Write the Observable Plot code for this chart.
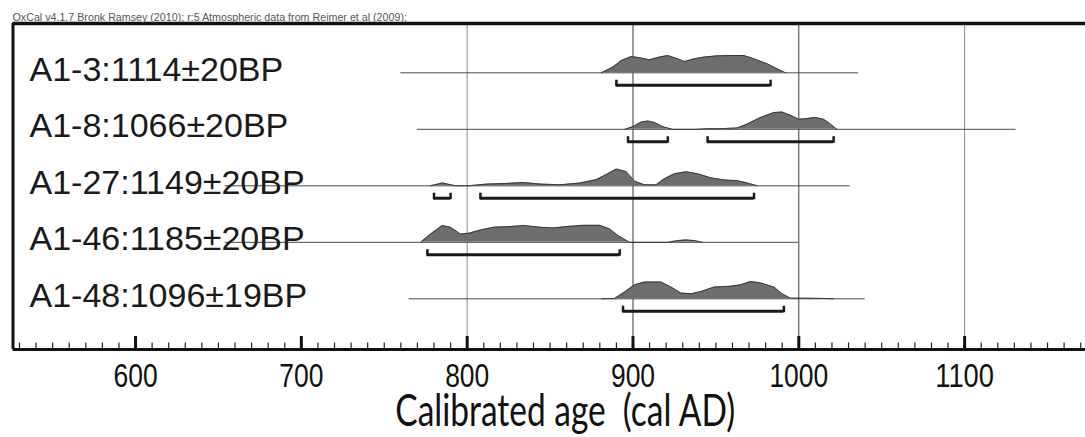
<!DOCTYPE html>
<html><head><meta charset="utf-8">
<script src="https://cdn.jsdelivr.net/npm/d3@7"></script>
<script src="https://cdn.jsdelivr.net/npm/@observablehq/plot@0.6"></script>
<style>html,body{margin:0;padding:0;background:#fff} svg{display:block}</style>
</head><body><div id="chart"></div>
<script>
// ---------- data ----------
const header = "OxCal v4.1.7 Bronk Ramsey (2010); r:5 Atmospheric data from Reimer et al (2009);";
const axisTitle = "Calibrated age\u00a0\u00a0(cal AD)";
const sampleLabels = ["A1-3:1114±20BP", "A1-8:1066±20BP", "A1-27:1149±20BP", "A1-46:1185±20BP", "A1-48:1096±19BP"];
const rangeFrom = [760, 770, 654, 654, 765];
const rangeTo = [1036, 1131, 1031, 1000, 1040];

const yearsA1_3 = [881, 888, 893, 899, 904, 910, 916, 921, 927, 931, 937, 943, 951, 959, 967, 973, 981, 987, 992];
const probA1_3  = [0, .33, .71, .94, .87, .75, .91, 1.0, .81, .65, .81, .91, .98, 1.0, 1.0, .81, .52, .23, 0];

const yearsA1_8 = [895, 900, 905, 909, 913, 918, 924, 938, 945, 953, 963, 969, 977, 985, 990, 995, 1000, 1005, 1010, 1015, 1019, 1023];
const probA1_8  = [0, .15, .42, .48, .40, .15, 0, 0, .04, .04, .08, .31, .69, .97, 1.0, .81, .58, .62, .69, .58, .31, 0];

const yearsA1_27 = [778, 785, 793, 801, 812, 822, 834, 844, 856, 868, 878, 884, 890, 896, 901, 907, 914, 919, 925, 932, 939, 947, 955, 963, 969, 975];
const probA1_27  = [0, .17, 0, 0, .10, .13, .19, .10, .06, .16, .36, .66, .97, .82, .26, .06, .06, .41, .70, .81, .70, .46, .34, .30, .16, 0];

const yearsA1_46 = [772, 778, 785, 790, 796, 801, 808, 816, 826, 834, 844, 852, 860, 870, 880, 886, 891, 898, 921, 927, 932, 937, 942];
const probA1_46  = [0, .48, .97, .87, .48, .52, .71, .87, .91, .97, .87, .83, .91, .98, .98, .77, .39, 0, 0, .10, .14, .10, 0];

const yearsA1_48 = [881, 889, 895, 901, 907, 917, 923, 929, 935, 941, 949, 959, 965, 971, 977, 985, 990, 995, 1003, 1015, 1021];
const probA1_48  = [0, .02, .39, .81, .97, .97, .68, .33, .29, .42, .68, .73, .81, 1.0, .92, .68, .29, .04, .04, .02, 0];

const hpdFrom = [[890], [897, 945], [780, 808], [776], [894]];
const hpdTo   = [[983], [921, 1021], [790, 973], [892], [991]];

const tickValues = [600, 700, 800, 900, 1000, 1100];
const gridValues = [800, 900, 1000, 1100];
const minorTicks = d3.range(530, 1175, 10);

// ---------- layout ----------
const xDomain = [526.1, 1172.9];
const yDomain = [-0.873, 4.897];
const rowPx = 56.5, peakPx = 17.3;
const k = peakPx / rowPx;
const hpdOff = 12.4 / rowPx;

const yearsAll = [yearsA1_3, yearsA1_8, yearsA1_27, yearsA1_46, yearsA1_48];
const probAll = [probA1_3, probA1_8, probA1_27, probA1_46, probA1_48];

const rows = sampleLabels.map((label, i) => ({label, i, from: rangeFrom[i], to: rangeTo[i]}));
const dens = yearsAll.flatMap((ys, i) => ys.map((year, j) => ({i, year, p: probAll[i][j]})));
const hpd = hpdFrom.flatMap((fs, i) => fs.map((from, j) => ({i, from, to: hpdTo[i][j]})));
const hpdEnds = hpd.flatMap(d => [{i: d.i, x: d.from}, {i: d.i, x: d.to}]);

const sans = "'Liberation Sans', Arial, sans-serif";

const chart = Plot.plot({
  width: 1085, height: 437,
  marginLeft: 12.5, marginRight: 0, marginTop: 23, marginBottom: 88,
  x: {domain: xDomain, axis: null},
  y: {domain: yDomain, reverse: true, axis: null},
  style: {fontFamily: sans, background: "#fff", overflow: "visible"},
  marks: [
    Plot.ruleX(gridValues, {x: d => d, stroke: d => (d === 900 || d === 1000) ? "#3a3a3a" : "#8a8a8a", strokeWidth: 1}),
    Plot.ruleY(rows, {y: "i", x1: "from", x2: "to", stroke: "#4a4a4a", strokeWidth: 1}),
    Plot.area(dens, {x1: "year", y1: "i", y2: d => d.i - d.p * k, z: "i", fill: "#6e6e6e"}),
    Plot.line(dens, {x: "year", y: d => d.i - d.p * k, z: "i", stroke: "#2a2a2a", strokeWidth: 0.8}),
    Plot.ruleY(hpd, {y: d => d.i + hpdOff, x1: "from", x2: "to", stroke: "#1a1a1a", strokeWidth: 3}),
    Plot.ruleX(hpdEnds, {x: "x", y1: d => d.i + hpdOff + 1.5 / rowPx, y2: d => d.i + hpdOff - 5 / rowPx, stroke: "#1a1a1a", strokeWidth: 2.5}),
    Plot.ruleX(minorTicks, {x: d => d, y1: yDomain[1], y2: yDomain[1] - 6.5 / rowPx, stroke: "#222", strokeWidth: 1.2}),
    Plot.ruleX(tickValues, {x: d => d, y1: yDomain[1], y2: yDomain[1] - 13 / rowPx, stroke: "#111", strokeWidth: 3}),
    Plot.ruleY([yDomain[1]], {stroke: "#111", strokeWidth: 3}),
    Plot.ruleY([yDomain[0]], {stroke: "#111", strokeWidth: 3.5}),
    Plot.ruleX([xDomain[0]], {stroke: "#111", strokeWidth: 3}),
    Plot.axisX(tickValues, {anchor: "bottom", tickSize: 0, tickPadding: 13, tickFormat: d => String(d), fontSize: 34, fontFamily: sans, fill: "#111", label: null, className: "ticklab"}),
    Plot.text([axisTitle], {frameAnchor: "bottom", lineAnchor: "top", dy: 45, dx: 16, fontSize: 45, fontFamily: "Lato, 'Open Sans', sans-serif", fill: "#111", className: "axtitle"}),
    Plot.text([header], {frameAnchor: "top-left", textAnchor: "start", lineAnchor: "bottom", dy: -3, dx: -0.5, fontSize: 10.7, fill: "#555"}),
    Plot.text(rows, {y: "i", text: "label", frameAnchor: "left", textAnchor: "start", dx: 16.5, dy: -3, fontSize: 34, fill: "#1a1a1a"})
  ]
});
document.getElementById("chart").appendChild(chart);

// condense the axis texts horizontally, like the reference's narrow type
function condense(t, target) {
  const w = t.getComputedTextLength();
  if (!w) return;
  const s = target / w;
  const x = +(t.getAttribute("x") || 0);
  const prev = t.getAttribute("transform") || "";
  t.setAttribute("transform", `${prev} translate(${x},0) scale(${s},1) translate(${-x},0)`);
}
chart.querySelectorAll(".ticklab text").forEach(t => condense(t, t.textContent.length * 14.7));
chart.querySelectorAll(".axtitle text").forEach(t => condense(t, 340));
</script>
</body></html>
